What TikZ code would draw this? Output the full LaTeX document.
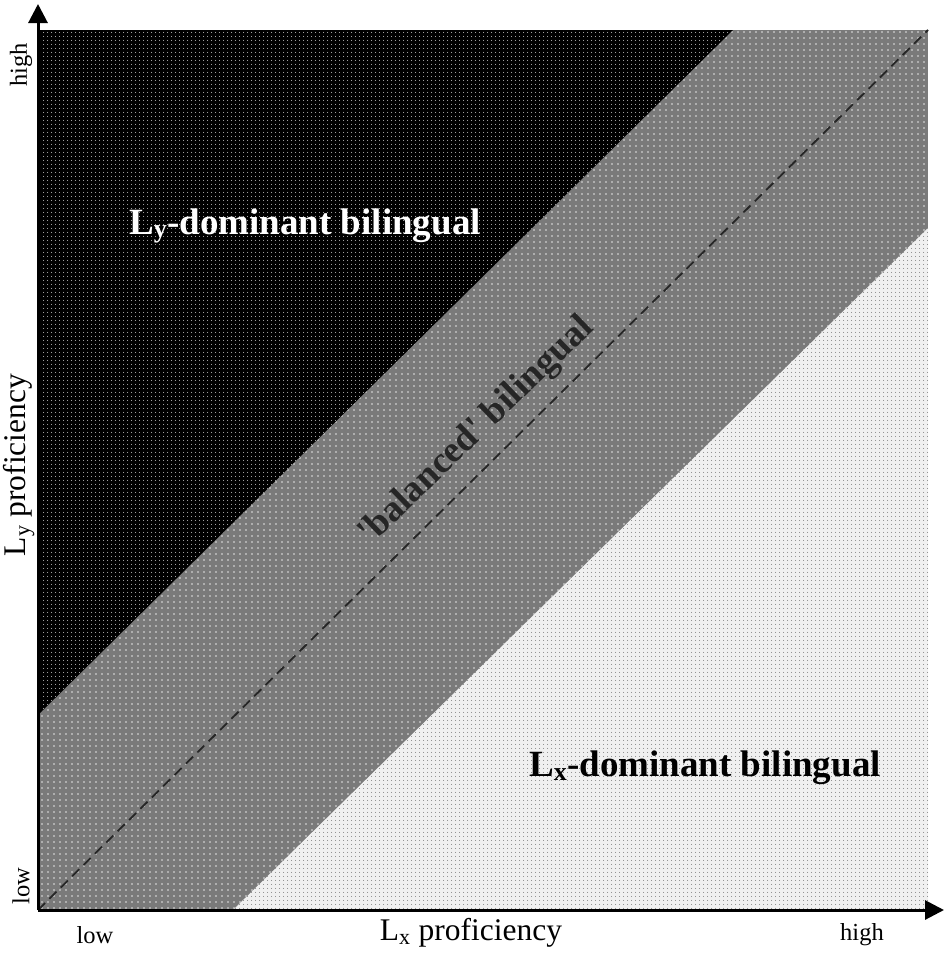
\documentclass[tikz,border=0pt]{standalone}
\usepackage{fontspec}
\setmainfont{Liberation Serif}
\usetikzlibrary{patterns.meta,arrows.meta}
\tikzdeclarepattern{name=dotgrid, type=uncolored, bottom left={(-2pt,-2pt)}, top right={(2pt,2pt)}, tile size={(4pt,4pt)}, code={\fill (0pt,0pt) circle (0.6pt);}}
\tikzdeclarepattern{name=dotgridwide, type=uncolored, bottom left={(-3pt,-3pt)}, top right={(3pt,3pt)}, tile size={(6pt,6pt)}, code={\fill (0pt,0pt) circle (0.8pt);}}
\newcommand{\sbx}[1]{\textsubscript{#1}}
\tikzset{
  darkzone/.style={fill=black},
  darkdots/.style={pattern={dotgrid}, pattern color=white!85!black},
  bandzone/.style={fill=black!52},
  banddots/.style={pattern={dotgridwide}, pattern color=white!90!black},
  lightzone/.style={fill=white!94!black},
  lightdots/.style={pattern={dotgrid}, pattern color=black!55},
  diag/.style={draw=black!85, line width=1.8pt, dash pattern=on 10pt off 6pt},
  axis/.style={draw=black, line width=3pt, -{Triangle[length=19pt,width=19pt]}},
  ticklbl/.style={font=\fontsize{24.5}{27}\selectfont, inner sep=0pt},
  axislbl/.style={font=\fontsize{31.5}{34}\selectfont, inner sep=0pt},
  zonelbl/.style={font=\bfseries\fontsize{37}{40}\selectfont, inner sep=0pt},
}
\begin{document}
\begin{tikzpicture}[x=1pt,y=-1pt]
\useasboundingbox (0,0) rectangle (950,956);
\coordinate (O) at (38,910);
\coordinate (TL) at (38,30);
\coordinate (TR) at (928,30);
\coordinate (BR) at (928,910);
\coordinate (A) at (38,715);
\coordinate (B) at (733,30);
\coordinate (C) at (233,910);
\coordinate (D) at (928,228);
\coordinate (ytip) at (38,4);
\coordinate (xtip) at (944,910);
% band
\fill[bandzone] (TL) rectangle (BR);
\fill[banddots] (TL) rectangle (BR);
% dark triangle
\fill[darkzone] (A) -- (TL) -- (B) -- cycle;
\fill[darkdots] (A) -- (TL) -- (B) -- cycle;
% light triangle
\fill[lightzone] (C) -- (BR) -- (D) -- cycle;
\fill[lightdots] (C) -- (BR) -- (D) -- cycle;
% diagonal
\draw[diag] (O) -- (TR);
% axes
\draw[axis] (O) -- (ytip);
\draw[axis] (O) -- (xtip);
% labels
\node[ticklbl, rotate=90] (yhigh) at (21,65) {high};
\node[ticklbl, rotate=90] (ylow) at (21,886) {low};
\node[ticklbl] (xlow) at (95,935) {low};
\node[ticklbl] (xhigh) at (862,935) {high};
\node[axislbl] (xlab) at (471,933) {L\sbx{x} proficiency};
\node[axislbl, rotate=90] (ylab) at (19,465) {L\sbx{y} proficiency};
\node[zonelbl, text=white] (ydom) at (305,226) {L\sbx{y}-dominant bilingual};
\node[zonelbl, text=black] (xdom) at (705,768) {L\sbx{x}-dominant bilingual};
\node[zonelbl, text=black!85, rotate=44] (bal) at (477,431) {\textquotesingle balanced\textquotesingle\ bilingual};
\end{tikzpicture}
\end{document}
